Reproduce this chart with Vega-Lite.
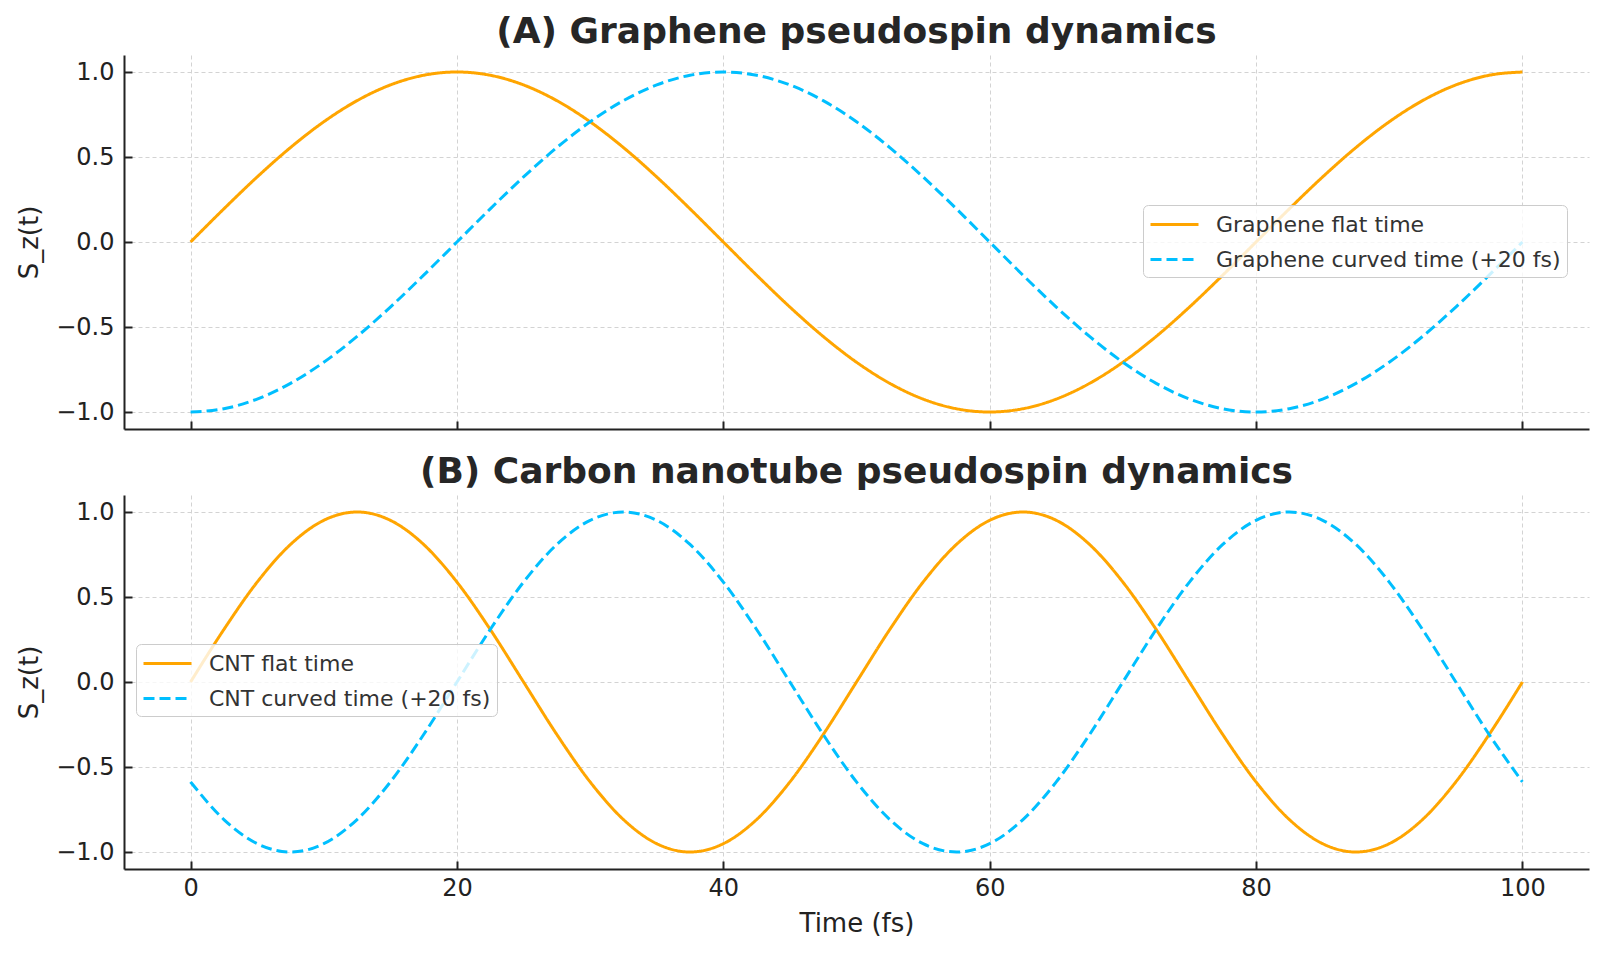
{
  "$schema": "https://vega.github.io/schema/vega-lite/v6.json",
  "background": "white",
  "padding": {"left": 16, "top": 14, "right": 14, "bottom": 10},
  "config": {
    "font": "DejaVu Sans",
    "view": {"stroke": null},
    "axis": {
      "domainColor": "#222222", "domainWidth": 2,
      "tickColor": "#222222", "tickWidth": 2, "tickSize": -8,
      "labelFont": "DejaVu Sans", "labelFontSize": 24, "labelColor": "#222222", "labelPadding": 18,
      "titleFont": "DejaVu Sans", "titleFontSize": 26, "titleFontWeight": "normal", "titleColor": "#222222",
      "gridColor": "#d3d3d3", "gridDash": [4, 3], "gridWidth": 1
    },
    "legend": {
      "labelFont": "DejaVu Sans", "labelFontSize": 22, "labelColor": "#333333", "labelLimit": 600,
      "symbolType": "M-2,0H2", "symbolSize": 576, "symbolStrokeWidth": 3, "symbolOffset": 12,
      "labelOffset": 28, "padding": 6, "rowPadding": 10,
      "fillColor": "rgba(255,255,255,0.8)", "strokeColor": "#cccccc", "cornerRadius": 5
    },
    "title": {"font": "DejaVu Sans", "fontSize": 36, "fontWeight": "bold", "color": "#262626", "anchor": "middle", "frame": "group", "offset": 4}
  },
  "datasets": {
    "graphene": [
      {"t": 0, "s_z": 0, "series": "Graphene flat time"},
      {"t": 2.5, "s_z": 0.1951, "series": "Graphene flat time"},
      {"t": 5, "s_z": 0.3827, "series": "Graphene flat time"},
      {"t": 7.5, "s_z": 0.5556, "series": "Graphene flat time"},
      {"t": 10, "s_z": 0.7071, "series": "Graphene flat time"},
      {"t": 12.5, "s_z": 0.8315, "series": "Graphene flat time"},
      {"t": 15, "s_z": 0.9239, "series": "Graphene flat time"},
      {"t": 17.5, "s_z": 0.9808, "series": "Graphene flat time"},
      {"t": 20, "s_z": 1, "series": "Graphene flat time"},
      {"t": 22.5, "s_z": 0.9808, "series": "Graphene flat time"},
      {"t": 25, "s_z": 0.9239, "series": "Graphene flat time"},
      {"t": 27.5, "s_z": 0.8315, "series": "Graphene flat time"},
      {"t": 30, "s_z": 0.7071, "series": "Graphene flat time"},
      {"t": 32.5, "s_z": 0.5556, "series": "Graphene flat time"},
      {"t": 35, "s_z": 0.3827, "series": "Graphene flat time"},
      {"t": 37.5, "s_z": 0.1951, "series": "Graphene flat time"},
      {"t": 40, "s_z": 0, "series": "Graphene flat time"},
      {"t": 42.5, "s_z": -0.1951, "series": "Graphene flat time"},
      {"t": 45, "s_z": -0.3827, "series": "Graphene flat time"},
      {"t": 47.5, "s_z": -0.5556, "series": "Graphene flat time"},
      {"t": 50, "s_z": -0.7071, "series": "Graphene flat time"},
      {"t": 52.5, "s_z": -0.8315, "series": "Graphene flat time"},
      {"t": 55, "s_z": -0.9239, "series": "Graphene flat time"},
      {"t": 57.5, "s_z": -0.9808, "series": "Graphene flat time"},
      {"t": 60, "s_z": -1, "series": "Graphene flat time"},
      {"t": 62.5, "s_z": -0.9808, "series": "Graphene flat time"},
      {"t": 65, "s_z": -0.9239, "series": "Graphene flat time"},
      {"t": 67.5, "s_z": -0.8315, "series": "Graphene flat time"},
      {"t": 70, "s_z": -0.7071, "series": "Graphene flat time"},
      {"t": 72.5, "s_z": -0.5556, "series": "Graphene flat time"},
      {"t": 75, "s_z": -0.3827, "series": "Graphene flat time"},
      {"t": 77.5, "s_z": -0.1951, "series": "Graphene flat time"},
      {"t": 80, "s_z": 0, "series": "Graphene flat time"},
      {"t": 82.5, "s_z": 0.1951, "series": "Graphene flat time"},
      {"t": 85, "s_z": 0.3827, "series": "Graphene flat time"},
      {"t": 87.5, "s_z": 0.5556, "series": "Graphene flat time"},
      {"t": 90, "s_z": 0.7071, "series": "Graphene flat time"},
      {"t": 92.5, "s_z": 0.8315, "series": "Graphene flat time"},
      {"t": 95, "s_z": 0.9239, "series": "Graphene flat time"},
      {"t": 97.5, "s_z": 0.9808, "series": "Graphene flat time"},
      {"t": 100, "s_z": 1, "series": "Graphene flat time"},
      {"t": 0, "s_z": -1, "series": "Graphene curved time (+20 fs)"},
      {"t": 2.5, "s_z": -0.9808, "series": "Graphene curved time (+20 fs)"},
      {"t": 5, "s_z": -0.9239, "series": "Graphene curved time (+20 fs)"},
      {"t": 7.5, "s_z": -0.8315, "series": "Graphene curved time (+20 fs)"},
      {"t": 10, "s_z": -0.7071, "series": "Graphene curved time (+20 fs)"},
      {"t": 12.5, "s_z": -0.5556, "series": "Graphene curved time (+20 fs)"},
      {"t": 15, "s_z": -0.3827, "series": "Graphene curved time (+20 fs)"},
      {"t": 17.5, "s_z": -0.1951, "series": "Graphene curved time (+20 fs)"},
      {"t": 20, "s_z": 0, "series": "Graphene curved time (+20 fs)"},
      {"t": 22.5, "s_z": 0.1951, "series": "Graphene curved time (+20 fs)"},
      {"t": 25, "s_z": 0.3827, "series": "Graphene curved time (+20 fs)"},
      {"t": 27.5, "s_z": 0.5556, "series": "Graphene curved time (+20 fs)"},
      {"t": 30, "s_z": 0.7071, "series": "Graphene curved time (+20 fs)"},
      {"t": 32.5, "s_z": 0.8315, "series": "Graphene curved time (+20 fs)"},
      {"t": 35, "s_z": 0.9239, "series": "Graphene curved time (+20 fs)"},
      {"t": 37.5, "s_z": 0.9808, "series": "Graphene curved time (+20 fs)"},
      {"t": 40, "s_z": 1, "series": "Graphene curved time (+20 fs)"},
      {"t": 42.5, "s_z": 0.9808, "series": "Graphene curved time (+20 fs)"},
      {"t": 45, "s_z": 0.9239, "series": "Graphene curved time (+20 fs)"},
      {"t": 47.5, "s_z": 0.8315, "series": "Graphene curved time (+20 fs)"},
      {"t": 50, "s_z": 0.7071, "series": "Graphene curved time (+20 fs)"},
      {"t": 52.5, "s_z": 0.5556, "series": "Graphene curved time (+20 fs)"},
      {"t": 55, "s_z": 0.3827, "series": "Graphene curved time (+20 fs)"},
      {"t": 57.5, "s_z": 0.1951, "series": "Graphene curved time (+20 fs)"},
      {"t": 60, "s_z": 0, "series": "Graphene curved time (+20 fs)"},
      {"t": 62.5, "s_z": -0.1951, "series": "Graphene curved time (+20 fs)"},
      {"t": 65, "s_z": -0.3827, "series": "Graphene curved time (+20 fs)"},
      {"t": 67.5, "s_z": -0.5556, "series": "Graphene curved time (+20 fs)"},
      {"t": 70, "s_z": -0.7071, "series": "Graphene curved time (+20 fs)"},
      {"t": 72.5, "s_z": -0.8315, "series": "Graphene curved time (+20 fs)"},
      {"t": 75, "s_z": -0.9239, "series": "Graphene curved time (+20 fs)"},
      {"t": 77.5, "s_z": -0.9808, "series": "Graphene curved time (+20 fs)"},
      {"t": 80, "s_z": -1, "series": "Graphene curved time (+20 fs)"},
      {"t": 82.5, "s_z": -0.9808, "series": "Graphene curved time (+20 fs)"},
      {"t": 85, "s_z": -0.9239, "series": "Graphene curved time (+20 fs)"},
      {"t": 87.5, "s_z": -0.8315, "series": "Graphene curved time (+20 fs)"},
      {"t": 90, "s_z": -0.7071, "series": "Graphene curved time (+20 fs)"},
      {"t": 92.5, "s_z": -0.5556, "series": "Graphene curved time (+20 fs)"},
      {"t": 95, "s_z": -0.3827, "series": "Graphene curved time (+20 fs)"},
      {"t": 97.5, "s_z": -0.1951, "series": "Graphene curved time (+20 fs)"},
      {"t": 100, "s_z": 0, "series": "Graphene curved time (+20 fs)"}
    ],
    "cnt": [
      {"t": 0, "s_z": 0, "series": "CNT flat time"},
      {"t": 2.5, "s_z": 0.309, "series": "CNT flat time"},
      {"t": 5, "s_z": 0.5878, "series": "CNT flat time"},
      {"t": 7.5, "s_z": 0.809, "series": "CNT flat time"},
      {"t": 10, "s_z": 0.9511, "series": "CNT flat time"},
      {"t": 12.5, "s_z": 1, "series": "CNT flat time"},
      {"t": 15, "s_z": 0.9511, "series": "CNT flat time"},
      {"t": 17.5, "s_z": 0.809, "series": "CNT flat time"},
      {"t": 20, "s_z": 0.5878, "series": "CNT flat time"},
      {"t": 22.5, "s_z": 0.309, "series": "CNT flat time"},
      {"t": 25, "s_z": 0, "series": "CNT flat time"},
      {"t": 27.5, "s_z": -0.309, "series": "CNT flat time"},
      {"t": 30, "s_z": -0.5878, "series": "CNT flat time"},
      {"t": 32.5, "s_z": -0.809, "series": "CNT flat time"},
      {"t": 35, "s_z": -0.9511, "series": "CNT flat time"},
      {"t": 37.5, "s_z": -1, "series": "CNT flat time"},
      {"t": 40, "s_z": -0.9511, "series": "CNT flat time"},
      {"t": 42.5, "s_z": -0.809, "series": "CNT flat time"},
      {"t": 45, "s_z": -0.5878, "series": "CNT flat time"},
      {"t": 47.5, "s_z": -0.309, "series": "CNT flat time"},
      {"t": 50, "s_z": 0, "series": "CNT flat time"},
      {"t": 52.5, "s_z": 0.309, "series": "CNT flat time"},
      {"t": 55, "s_z": 0.5878, "series": "CNT flat time"},
      {"t": 57.5, "s_z": 0.809, "series": "CNT flat time"},
      {"t": 60, "s_z": 0.9511, "series": "CNT flat time"},
      {"t": 62.5, "s_z": 1, "series": "CNT flat time"},
      {"t": 65, "s_z": 0.9511, "series": "CNT flat time"},
      {"t": 67.5, "s_z": 0.809, "series": "CNT flat time"},
      {"t": 70, "s_z": 0.5878, "series": "CNT flat time"},
      {"t": 72.5, "s_z": 0.309, "series": "CNT flat time"},
      {"t": 75, "s_z": 0, "series": "CNT flat time"},
      {"t": 77.5, "s_z": -0.309, "series": "CNT flat time"},
      {"t": 80, "s_z": -0.5878, "series": "CNT flat time"},
      {"t": 82.5, "s_z": -0.809, "series": "CNT flat time"},
      {"t": 85, "s_z": -0.9511, "series": "CNT flat time"},
      {"t": 87.5, "s_z": -1, "series": "CNT flat time"},
      {"t": 90, "s_z": -0.9511, "series": "CNT flat time"},
      {"t": 92.5, "s_z": -0.809, "series": "CNT flat time"},
      {"t": 95, "s_z": -0.5878, "series": "CNT flat time"},
      {"t": 97.5, "s_z": -0.309, "series": "CNT flat time"},
      {"t": 100, "s_z": 0, "series": "CNT flat time"},
      {"t": 0, "s_z": -0.5878, "series": "CNT curved time (+20 fs)"},
      {"t": 2.5, "s_z": -0.809, "series": "CNT curved time (+20 fs)"},
      {"t": 5, "s_z": -0.9511, "series": "CNT curved time (+20 fs)"},
      {"t": 7.5, "s_z": -1, "series": "CNT curved time (+20 fs)"},
      {"t": 10, "s_z": -0.9511, "series": "CNT curved time (+20 fs)"},
      {"t": 12.5, "s_z": -0.809, "series": "CNT curved time (+20 fs)"},
      {"t": 15, "s_z": -0.5878, "series": "CNT curved time (+20 fs)"},
      {"t": 17.5, "s_z": -0.309, "series": "CNT curved time (+20 fs)"},
      {"t": 20, "s_z": 0, "series": "CNT curved time (+20 fs)"},
      {"t": 22.5, "s_z": 0.309, "series": "CNT curved time (+20 fs)"},
      {"t": 25, "s_z": 0.5878, "series": "CNT curved time (+20 fs)"},
      {"t": 27.5, "s_z": 0.809, "series": "CNT curved time (+20 fs)"},
      {"t": 30, "s_z": 0.9511, "series": "CNT curved time (+20 fs)"},
      {"t": 32.5, "s_z": 1, "series": "CNT curved time (+20 fs)"},
      {"t": 35, "s_z": 0.9511, "series": "CNT curved time (+20 fs)"},
      {"t": 37.5, "s_z": 0.809, "series": "CNT curved time (+20 fs)"},
      {"t": 40, "s_z": 0.5878, "series": "CNT curved time (+20 fs)"},
      {"t": 42.5, "s_z": 0.309, "series": "CNT curved time (+20 fs)"},
      {"t": 45, "s_z": 0, "series": "CNT curved time (+20 fs)"},
      {"t": 47.5, "s_z": -0.309, "series": "CNT curved time (+20 fs)"},
      {"t": 50, "s_z": -0.5878, "series": "CNT curved time (+20 fs)"},
      {"t": 52.5, "s_z": -0.809, "series": "CNT curved time (+20 fs)"},
      {"t": 55, "s_z": -0.9511, "series": "CNT curved time (+20 fs)"},
      {"t": 57.5, "s_z": -1, "series": "CNT curved time (+20 fs)"},
      {"t": 60, "s_z": -0.9511, "series": "CNT curved time (+20 fs)"},
      {"t": 62.5, "s_z": -0.809, "series": "CNT curved time (+20 fs)"},
      {"t": 65, "s_z": -0.5878, "series": "CNT curved time (+20 fs)"},
      {"t": 67.5, "s_z": -0.309, "series": "CNT curved time (+20 fs)"},
      {"t": 70, "s_z": 0, "series": "CNT curved time (+20 fs)"},
      {"t": 72.5, "s_z": 0.309, "series": "CNT curved time (+20 fs)"},
      {"t": 75, "s_z": 0.5878, "series": "CNT curved time (+20 fs)"},
      {"t": 77.5, "s_z": 0.809, "series": "CNT curved time (+20 fs)"},
      {"t": 80, "s_z": 0.9511, "series": "CNT curved time (+20 fs)"},
      {"t": 82.5, "s_z": 1, "series": "CNT curved time (+20 fs)"},
      {"t": 85, "s_z": 0.9511, "series": "CNT curved time (+20 fs)"},
      {"t": 87.5, "s_z": 0.809, "series": "CNT curved time (+20 fs)"},
      {"t": 90, "s_z": 0.5878, "series": "CNT curved time (+20 fs)"},
      {"t": 92.5, "s_z": 0.309, "series": "CNT curved time (+20 fs)"},
      {"t": 95, "s_z": 0, "series": "CNT curved time (+20 fs)"},
      {"t": 97.5, "s_z": -0.309, "series": "CNT curved time (+20 fs)"},
      {"t": 100, "s_z": -0.5878, "series": "CNT curved time (+20 fs)"}
    ]
  },
  "resolve": {
    "scale": {"color": "independent", "strokeDash": "independent"},
    "legend": {"color": "independent", "strokeDash": "independent"}
  },
  "spacing": 24,
  "vconcat": [
    {
      "title": "(A) Graphene pseudospin dynamics",
      "width": 1465,
      "height": 374,
      "data": {"name": "graphene"},
      "mark": {"type": "line", "strokeWidth": 3, "interpolate": "monotone"},
      "encoding": {
        "x": {
          "field": "t", "type": "quantitative",
          "scale": {"domain": [-5, 105], "nice": false, "zero": false},
          "axis": {"values": [0, 20, 40, 60, 80, 100], "labels": false, "title": null}
        },
        "y": {
          "field": "s_z", "type": "quantitative",
          "scale": {"domain": [-1.1, 1.1], "nice": false},
          "axis": {"values": [-1, -0.5, 0, 0.5, 1], "format": ".1f", "title": "S_z(t)", "titlePadding": 13}
        },
        "color": {
          "field": "series", "type": "nominal",
          "scale": {"domain": ["Graphene flat time", "Graphene curved time (+20 fs)"], "range": ["#FFA500", "#00BFFF"]},
          "legend": {"title": null, "orient": "none", "legendX": 1019, "legendY": 150}
        },
        "strokeDash": {
          "field": "series", "type": "nominal",
          "scale": {"domain": ["Graphene flat time", "Graphene curved time (+20 fs)"], "range": [[1, 0], [11, 5]]},
          "legend": {"title": null, "orient": "none", "legendX": 1019, "legendY": 150}
        }
      }
    },
    {
      "title": "(B) Carbon nanotube pseudospin dynamics",
      "width": 1465,
      "height": 374,
      "data": {"name": "cnt"},
      "mark": {"type": "line", "strokeWidth": 3, "interpolate": "monotone"},
      "encoding": {
        "x": {
          "field": "t", "type": "quantitative",
          "scale": {"domain": [-5, 105], "nice": false, "zero": false},
          "axis": {"values": [0, 20, 40, 60, 80, 100], "title": "Time (fs)", "labelPadding": 15, "titlePadding": 10}
        },
        "y": {
          "field": "s_z", "type": "quantitative",
          "scale": {"domain": [-1.1, 1.1], "nice": false},
          "axis": {"values": [-1, -0.5, 0, 0.5, 1], "format": ".1f", "title": "S_z(t)", "titlePadding": 13}
        },
        "color": {
          "field": "series", "type": "nominal",
          "scale": {"domain": ["CNT flat time", "CNT curved time (+20 fs)"], "range": ["#FFA500", "#00BFFF"]},
          "legend": {"title": null, "orient": "none", "legendX": 12, "legendY": 149}
        },
        "strokeDash": {
          "field": "series", "type": "nominal",
          "scale": {"domain": ["CNT flat time", "CNT curved time (+20 fs)"], "range": [[1, 0], [11, 5]]},
          "legend": {"title": null, "orient": "none", "legendX": 12, "legendY": 149}
        }
      }
    }
  ]
}
